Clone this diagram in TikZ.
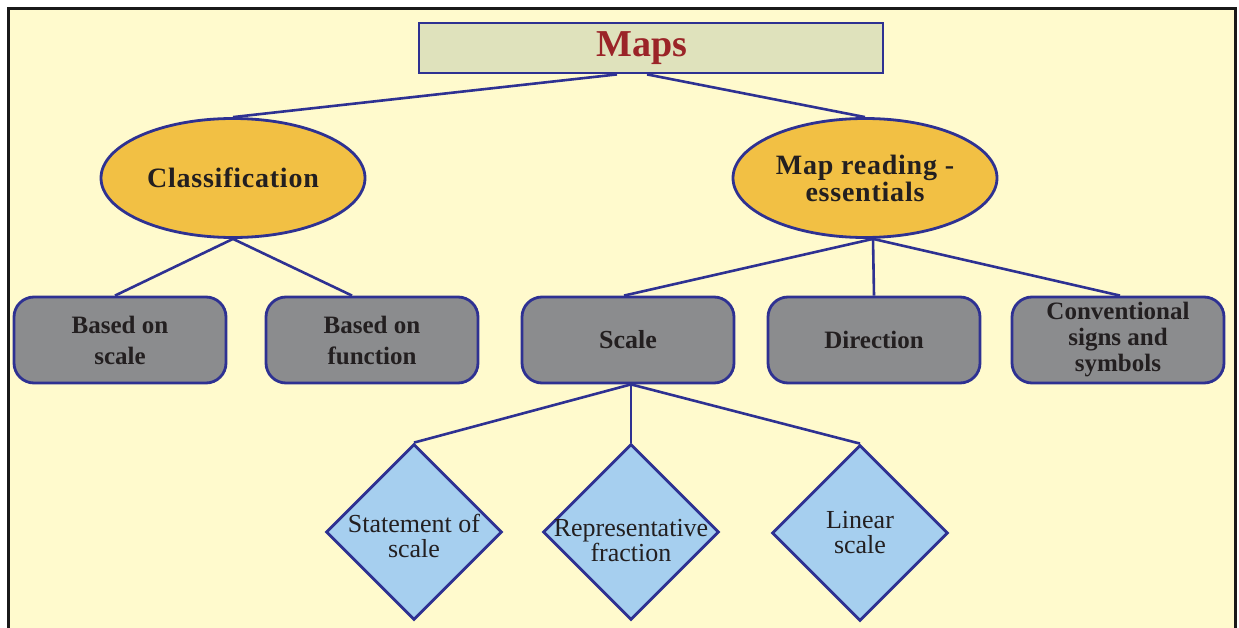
\documentclass[tikz,border=0pt]{standalone}
\usepackage{fontspec}
\setmainfont{Liberation Serif}
\newfontfamily\spacedfont[LetterSpace=2.75]{Liberation Serif}
\usetikzlibrary{shapes.geometric}
\definecolor{bg}{HTML}{FFFACD}
\definecolor{edge}{HTML}{2E3192}
\definecolor{titlefill}{HTML}{DFE2BC}
\definecolor{titletext}{HTML}{9B2428}
\definecolor{ovalfill}{HTML}{F2C044}
\definecolor{greyfill}{HTML}{8B8C8E}
\definecolor{bluefill}{HTML}{A6CFEF}
\definecolor{ink}{HTML}{231F20}
\begin{document}
\begin{tikzpicture}[x=1pt,y=-1pt,
 link/.style={draw=edge,line width=2.6pt},
 titlebox/.style={rectangle,draw=edge,line width=2.8pt,fill=titlefill,minimum width=464pt,minimum height=50pt,inner sep=0pt,text=titletext,font=\fontsize{38}{40}\selectfont\bfseries},
 oval/.style={ellipse,draw=edge,line width=2.8pt,fill=ovalfill,minimum width=264pt,minimum height=119pt,inner sep=0pt,text=ink,align=center,font=\spacedfont\bfseries\fontsize{28}{27}\selectfont},
 greybox/.style={rectangle,rounded corners=20pt,draw=edge,line width=2.8pt,fill=greyfill,minimum width=212pt,minimum height=86pt,inner sep=0pt,text=ink,align=center},
 bluediamond/.style={diamond,draw=edge,line width=2.8pt,fill=bluefill,minimum width=176pt,minimum height=176pt,inner sep=0pt},
 dtext/.style={text=ink,align=center,inner sep=0pt,font=\fontsize{26}{25}\selectfont}
]
\useasboundingbox (0,0) rectangle (1239,628);
% background and frame
\fill[white] (0,0) rectangle (1239,628);
\fill[bg] (8.5,8.5) rectangle (1235.5,628);
\draw[black!90,line width=2.5pt] (8.5,628) -- (8.5,8.5) -- (1235.5,8.5) -- (1235.5,628);

% nodes
\node[titlebox] (maps) at (651,48) {\hspace*{-18pt}Maps};
\node[oval] (cls) at (233,178) {Classification};
\node[oval] (mr) at (865,178) {Map reading -\\essentials};

\node[greybox,font=\bfseries\fontsize{25}{31}\selectfont] (bos) at (120,340) {Based on\\scale};
\node[greybox,font=\bfseries\fontsize{25}{31}\selectfont] (bof) at (372,340) {Based on\\function};
\node[greybox,font=\bfseries\fontsize{26}{28}\selectfont] (scl) at (628,340) {Scale};
\node[greybox,font=\bfseries\fontsize{25}{28}\selectfont] (dir) at (874,340) {Direction};
\node[greybox,font=\bfseries\fontsize{25}{26}\selectfont] (conv) at (1118,340) {Conventional\\signs and\\symbols};

\node[bluediamond] (d1) at (414,532) {};
\node[bluediamond] (d2) at (631,532) {};
\node[bluediamond] (d3) at (860,533) {};
\node[dtext] (t1) at (414,536) {Statement of\\scale};
\node[dtext] (t2) at (631,541) {Representative\\fraction};
\node[dtext] (t3) at (860,533) {Linear\\scale};

% connectors
\draw[link] ([xshift=-34pt]maps.south) -- (cls.north);
\draw[link] ([xshift=-4pt]maps.south) -- (mr.north);
\draw[link] (cls.south) -- ([xshift=-5pt]bos.north);
\draw[link] (cls.south) -- ([xshift=-20pt]bof.north);
\draw[link] ([xshift=8pt]mr.south) -- ([xshift=-4pt]scl.north);
\draw[link] ([xshift=8pt]mr.south) -- (dir.north);
\draw[link] ([xshift=8pt]mr.south) -- ([xshift=2pt]conv.north);
\draw[link] ([xshift=3pt]scl.south) -- (d1.north);
\draw[link] ([xshift=3pt]scl.south) -- (d2.north);
\draw[link] ([xshift=3pt]scl.south) -- (d3.north);
\end{tikzpicture}
\end{document}
